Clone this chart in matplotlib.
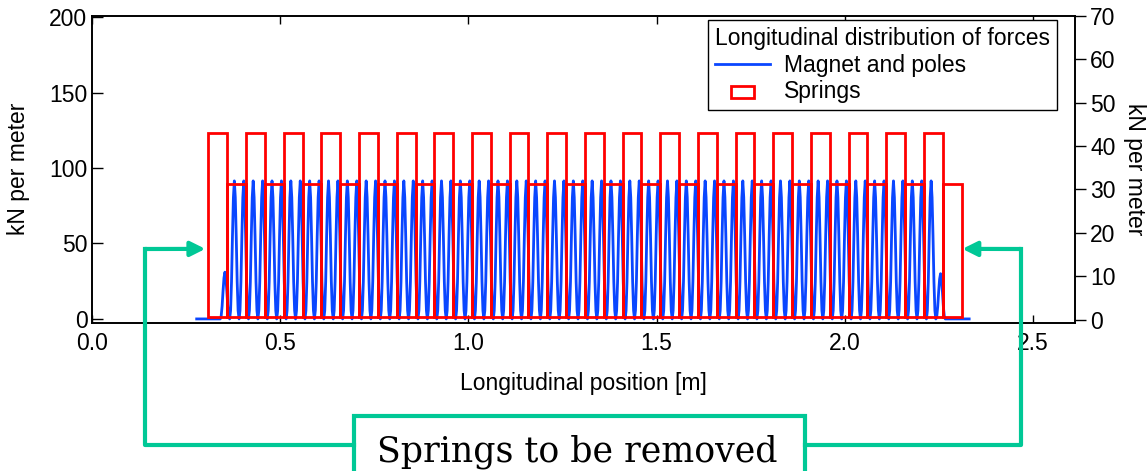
import numpy as np
import matplotlib
matplotlib.use("Agg")
import matplotlib.pyplot as plt
import matplotlib.patches as mpatches
from matplotlib.lines import Line2D
from matplotlib.legend_handler import HandlerPatch

# DATA ########################################################################

# magnet and poles: peak positions [m] and peak heights [kN/m] (left axis)
magnet_peak_x = [
    0.354, 0.379, 0.404, 0.429, 0.454, 0.479, 0.504, 0.529, 0.554, 0.579,
    0.604, 0.629, 0.654, 0.679, 0.704, 0.729, 0.754, 0.779, 0.804, 0.829,
    0.854, 0.879, 0.904, 0.929, 0.954, 0.979, 1.004, 1.029, 1.054, 1.079,
    1.104, 1.129, 1.154, 1.179, 1.204, 1.229, 1.254, 1.279, 1.304, 1.329,
    1.354, 1.379, 1.404, 1.429, 1.454, 1.479, 1.504, 1.529, 1.554, 1.579,
    1.604, 1.629, 1.654, 1.679, 1.704, 1.729, 1.754, 1.779, 1.804, 1.829,
    1.854, 1.879, 1.904, 1.929, 1.954, 1.979, 2.004, 2.029, 2.054, 2.079,
    2.104, 2.129, 2.154, 2.179, 2.204, 2.229, 2.254,
]
magnet_peak_y = [31.0] + [91.5] * 75 + [30.0]
magnet_pitch = 0.025
magnet_start = 0.279
magnet_end = 2.33

# shape of one lobe, offsets in fractions of the pitch, values normalised
lobe_offset = [-0.5, -0.4, -0.3, -0.2, -0.1, 0.0, 0.1, 0.2, 0.3, 0.4, 0.5]
lobe_shape = [0.0, 0.06, 0.27, 0.6, 0.88, 1.0, 0.88, 0.6, 0.27, 0.06, 0.0]

# springs (right axis): left edges [m], width [m], heights [kN/m]
tall_spring_x = [0.31, 0.41, 0.51, 0.61, 0.71, 0.81, 0.91, 1.01, 1.11, 1.21,
                 1.31, 1.41, 1.51, 1.61, 1.71, 1.81, 1.91, 2.01, 2.11, 2.21]
short_spring_x = [0.36, 0.46, 0.56, 0.66, 0.76, 0.86, 0.96, 1.06, 1.16, 1.26,
                  1.36, 1.46, 1.56, 1.66, 1.76, 1.86, 1.96, 2.06, 2.16, 2.26]
spring_width = 0.05
tall_spring_h = 43.1
short_spring_h = 31.3
spring_base = 0.6

x_ticks = [0.0, 0.5, 1.0, 1.5, 2.0, 2.5]
left_ticks = [0, 50, 100, 150, 200]
right_ticks = [0, 10, 20, 30, 40, 50, 60, 70]

# STYLE #######################################################################

BLUE = "#0a46ff"
RED = "#ff0000"
TEAL = "#00c896"
FS = 16.5

plt.rcParams["font.family"] = ["Liberation Sans", "DejaVu Sans"]
plt.rcParams["font.size"] = FS

W, H = 1148, 471
fig = plt.figure(figsize=(W / 100, H / 100), dpi=100)
ax = fig.add_axes([91.6 / W, 1 - 322.7 / H, (1075 - 91.6) / W, (322.7 - 15.7) / H])
ax2 = ax.twinx()

# MAGNET CURVE ################################################################

mx = [magnet_start]
my = [0.0]
for px, py in zip(magnet_peak_x, magnet_peak_y):
    for off, shp in zip(lobe_offset, lobe_shape):
        mx.append(px + off * magnet_pitch)
        my.append(py * shp)
mx.append(magnet_end)
my.append(0.0)

magnet_line, = ax.plot(mx, my, color=BLUE, lw=2.0, label="Magnet and poles")

# SPRINGS #####################################################################

ax2.bar(tall_spring_x, [tall_spring_h - spring_base] * len(tall_spring_x),
        width=spring_width, align="edge", bottom=spring_base,
        fill=False, edgecolor=RED, linewidth=2)
springs = ax2.bar(short_spring_x, [short_spring_h - spring_base] * len(short_spring_x),
                  width=spring_width, align="edge", bottom=spring_base,
                  fill=False, edgecolor=RED, linewidth=2)

# AXES ########################################################################

ax.set_xlim(0, 2.611)
ax.set_ylim(-2.5, 201)
ax2.set_ylim(-0.7, 70)
ax.set_xticks(x_ticks)
ax.set_xticklabels(["%.1f" % t for t in x_ticks])
ax.set_yticks(left_ticks)
ax2.set_yticks(right_ticks)

ax.tick_params(axis="x", direction="in", top=True, length=6, width=1, pad=7)
ax.tick_params(axis="y", direction="in", length=8, width=1, pad=3)
ax2.tick_params(axis="y", direction="out", length=8, width=1, pad=3)
for a in (ax, ax2):
    for s in a.spines.values():
        s.set_linewidth(1.2)

ax.set_xlabel("Longitudinal position [m]", labelpad=12)
ax.set_ylabel("kN per meter", labelpad=14)
ax2.set_ylabel("kN per meter", rotation=270, labelpad=22)


def small_rect(legend, orig_handle, xdescent, ydescent, width, height, fontsize):
    w = width * 0.42
    return mpatches.Rectangle((-xdescent + (width - w) / 2, -ydescent + height * 0.05),
                              w, height * 0.7)


leg = ax2.legend([magnet_line, springs[0]], ["Magnet and poles", "Springs"],
                 title="Longitudinal distribution of forces", alignment="left",
                 loc="upper right", bbox_to_anchor=(0.9817, 0.986), borderaxespad=0,
                 fancybox=False, edgecolor="black", framealpha=1,
                 fontsize=FS, title_fontsize=FS, handlelength=2.4,
                 labelspacing=0.15, borderpad=0.3, handletextpad=0.6,
                 handler_map={mpatches.Rectangle: HandlerPatch(patch_func=small_rect)})
leg.get_frame().set_linewidth(1.0)
leg._legend_box.sep = 3

# ANNOTATION ##################################################################


def fx(px):
    return px / W


def fy(py):
    return 1 - py / H


box = mpatches.Rectangle((fx(354), fy(490)), fx(805 - 354), (490 - 415.7) / H,
                         transform=fig.transFigure, fill=True, facecolor="white",
                         edgecolor=TEAL, linewidth=3, clip_on=False)
fig.add_artist(box)
fig.text(fx(577), fy(452), "Springs to be removed", family="DejaVu Serif",
         fontsize=25, ha="center", va="center")

for x_side, x_turn in ((354, 145), (805, 1021)):
    fig.add_artist(Line2D([fx(x_side), fx(x_turn), fx(x_turn)],
                          [fy(445), fy(445), fy(249)],
                          transform=fig.transFigure, color=TEAL, lw=3))

arrow_y = 16.3
for tip_x, x_turn in ((tall_spring_x[0] - 0.008, 145), (short_spring_x[-1] + spring_width + 0.002, 1021)):
    ax2.annotate("", xy=(tip_x, arrow_y), xycoords="data",
                 xytext=(fx(x_turn), fy(249)), textcoords="figure fraction",
                 arrowprops=dict(arrowstyle="-|>", color=TEAL, lw=3,
                                 mutation_scale=22, shrinkA=0, shrinkB=0))

fig.savefig("out.png", dpi=100)
